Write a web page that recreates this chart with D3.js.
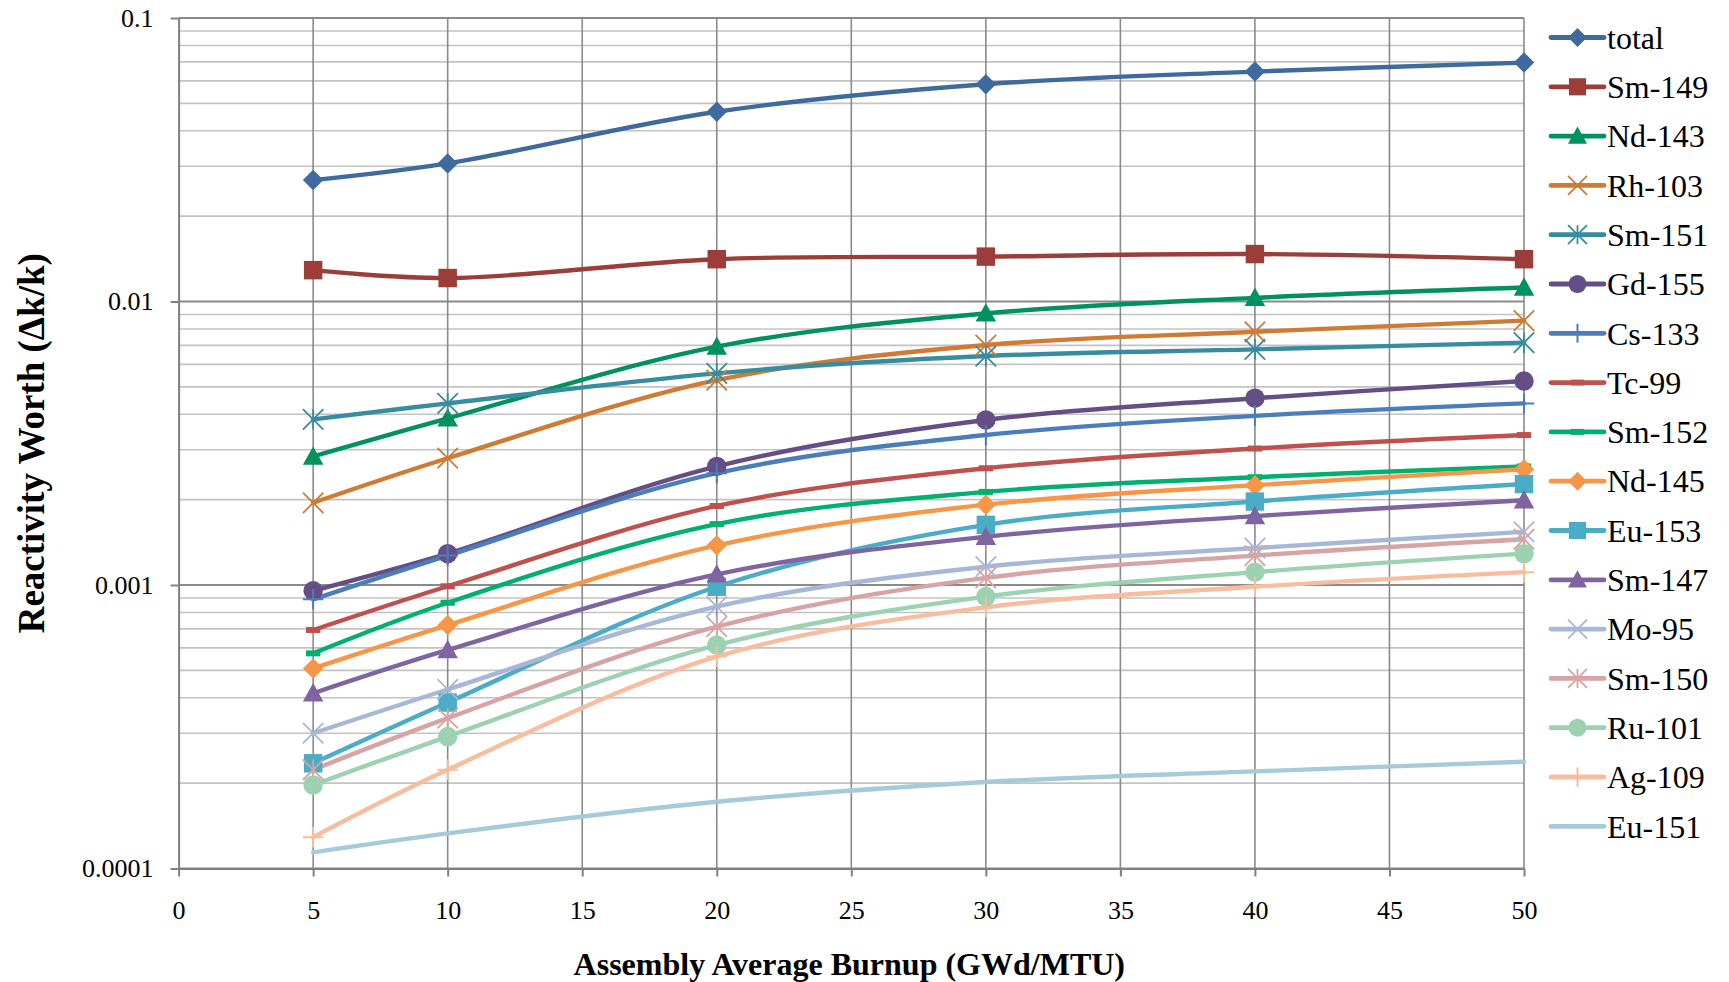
<!DOCTYPE html>
<html>
<head>
<meta charset="utf-8">
<script src="https://cdn.jsdelivr.net/npm/d3@7"></script>
<style>
  body { margin: 0; background: #fff; }
  svg { display: block; }
  text { font-family: "Liberation Serif", "Times New Roman", serif; fill: #000; }
</style>
</head>
<body>
<svg id="chart" width="1729" height="982"></svg>
<script>
// Assembly average burnup (GWd/MTU)
const burnup = [5, 10, 20, 30, 40, 50];

// Reactivity worth (Δk/k) of each nuclide at each burnup step
const total  = [0.0268, 0.0307, 0.0467, 0.0584, 0.0647, 0.0696];
const sm149  = [0.0129, 0.0121, 0.0141, 0.0144, 0.0147, 0.0141];
const nd143  = [0.00284, 0.00387, 0.00693, 0.00908, 0.0103, 0.0112];
const rh103  = [0.00195, 0.00280, 0.00528, 0.00702, 0.00782, 0.00856];
const sm151  = [0.00384, 0.00437, 0.00558, 0.00642, 0.00678, 0.00716];
const gd155  = [0.000954, 0.00129, 0.00262, 0.00382, 0.00456, 0.00524];
const cs133  = [0.000890, 0.00127, 0.00248, 0.00338, 0.00395, 0.00437];
const tc99   = [0.000694, 0.000990, 0.00190, 0.00258, 0.00303, 0.00338];
const sm152  = [0.000574, 0.000866, 0.00164, 0.00213, 0.00240, 0.00262];
const nd145  = [0.000508, 0.000722, 0.00138, 0.00192, 0.00225, 0.00256];
const eu153  = [0.000235, 0.000385, 0.000986, 0.00163, 0.00197, 0.00227];
const sm147  = [0.000415, 0.000590, 0.00109, 0.00148, 0.00175, 0.00199];
const mo95   = [0.000300, 0.000428, 0.000839, 0.00116, 0.00135, 0.00154];
const sm150  = [0.000223, 0.000339, 0.000713, 0.00106, 0.00127, 0.00145];
const ru101  = [0.000197, 0.000292, 0.000614, 0.000910, 0.00111, 0.00129];
const ag109  = [0.000129, 0.000223, 0.000559, 0.000834, 0.000986, 0.00111];
const eu151  = [0.000114, 0.000133, 0.000172, 0.000202, 0.000220, 0.000238];

const seriesNames = ["total", "Sm-149", "Nd-143", "Rh-103", "Sm-151", "Gd-155", "Cs-133", "Tc-99",
  "Sm-152", "Nd-145", "Eu-153", "Sm-147", "Mo-95", "Sm-150", "Ru-101", "Ag-109", "Eu-151"];
const seriesValues = [total, sm149, nd143, rh103, sm151, gd155, cs133, tc99,
  sm152, nd145, eu153, sm147, mo95, sm150, ru101, ag109, eu151];

// Axis tick labels
const xTicks = [0, 5, 10, 15, 20, 25, 30, 35, 40, 45, 50];
const yTicks = [0.0001, 0.001, 0.01, 0.1];
const yTickLabels = ["0.0001", "0.001", "0.01", "0.1"];

// Per-series appearance
const seriesColors = ["#3e6a9e", "#9c3d3a", "#00925e", "#d07b33", "#378c9f", "#654e86", "#4a7ebb", "#c0504d",
  "#00b06e", "#f79646", "#4bacc6", "#8064a2", "#a6b7d7", "#d7a4a3", "#9cd2b1", "#f8bd9f", "#a5cbd8"];
const seriesMarkers = ["diamond", "square", "triangle", "x", "star", "circle", "plus", "dash",
  "dash", "diamond", "square", "triangle", "x", "star", "circle", "plus", "none"];

const svg = d3.select("#chart");
const W = 1729, H = 982;
svg.append("rect").attr("width", W).attr("height", H).attr("fill", "#fff");

const plot = { left: 178.6, right: 1524, top: 18, bottom: 868.5 };
const x = d3.scaleLinear().domain([0, 50]).range([plot.left, plot.right]);
const y = d3.scaleLog().domain([0.0001, 0.1]).range([plot.bottom, plot.top]);

// Minor horizontal gridlines (2..9 within each decade)
const minor = [];
for (let e = -4; e < -1; e++) for (let k = 2; k <= 9; k++) minor.push(k * Math.pow(10, e));
const grid = svg.append("g");
grid.selectAll("line.minor").data(minor).join("line")
  .attr("x1", plot.left).attr("x2", plot.right)
  .attr("y1", d => y(d)).attr("y2", d => y(d))
  .attr("stroke", "#c3c3c3").attr("stroke-width", 1.6);
// Decade gridlines
grid.selectAll("line.major").data(yTicks).join("line")
  .attr("x1", plot.left).attr("x2", plot.right)
  .attr("y1", d => y(d)).attr("y2", d => y(d))
  .attr("stroke", "#8a8a8a").attr("stroke-width", 1.8);
// Vertical gridlines
grid.selectAll("line.vert").data(xTicks.filter(d => d > 0)).join("line")
  .attr("x1", d => x(d)).attr("x2", d => x(d))
  .attr("y1", plot.top).attr("y2", plot.bottom)
  .attr("stroke", "#8a8a8a").attr("stroke-width", 1.6);

// Axes
const xAxis = svg.append("g").attr("transform", `translate(0,${plot.bottom})`)
  .call(d3.axisBottom(x).tickValues(xTicks).tickFormat(d3.format("d")).tickSize(8).tickPadding(24).tickSizeOuter(0));
const yAxis = svg.append("g").attr("transform", `translate(${plot.left},0)`)
  .call(d3.axisLeft(y).tickValues(yTicks).tickFormat((d, i) => yTickLabels[i]).tickSize(8).tickPadding(17).tickSizeOuter(0));
[xAxis, yAxis].forEach(a => {
  a.select(".domain").attr("stroke", "#808080").attr("stroke-width", 2);
  a.selectAll(".tick line").attr("stroke", "#808080").attr("stroke-width", 2);
  a.selectAll(".tick text").attr("font-size", 26).attr("font-family", "Liberation Serif").attr("fill", "#000");
});

// Axis titles
svg.append("text")
  .attr("x", (plot.left + plot.right) / 2 - 2).attr("y", 975)
  .attr("text-anchor", "middle").attr("font-size", 32).attr("font-weight", "bold")
  .text("Assembly Average Burnup (GWd/MTU)");
svg.append("text")
  .attr("transform", `translate(44,${(plot.top + plot.bottom) / 2}) rotate(-90)`)
  .attr("text-anchor", "middle").attr("font-size", 37).attr("font-weight", "bold")
  .text("Reactivity Worth (Δk/k)");

// Marker drawing
function drawMarker(g, type, color, size) {
  const s = size / 2;
  switch (type) {
    case "diamond":
      g.append("path").attr("d", `M0,${-s}L${s},0L0,${s}L${-s},0Z`).attr("fill", color); break;
    case "square":
      g.append("rect").attr("x", -s * 0.9).attr("y", -s * 0.9).attr("width", s * 1.8).attr("height", s * 1.8).attr("fill", color); break;
    case "triangle":
      g.append("path").attr("d", `M0,${-s}L${s},${s * 0.8}L${-s},${s * 0.8}Z`).attr("fill", color); break;
    case "circle":
      g.append("circle").attr("r", s * 0.95).attr("fill", color); break;
    case "x":
      g.append("path").attr("d", `M${-s},${-s}L${s},${s}M${-s},${s}L${s},${-s}`)
        .attr("stroke", color).attr("stroke-width", 1.8).attr("fill", "none"); break;
    case "star":
      g.append("path").attr("d", `M${-s},${-s}L${s},${s}M${-s},${s}L${s},${-s}M0,${-s}L0,${s}`)
        .attr("stroke", color).attr("stroke-width", 1.8).attr("fill", "none"); break;
    case "plus":
      g.append("path").attr("d", `M0,${-s}L0,${s}M${-s},0L${s},0`)
        .attr("stroke", color).attr("stroke-width", 2).attr("fill", "none"); break;
    case "dash":
      g.append("rect").attr("x", -s * 0.7).attr("y", -3).attr("width", s * 1.4).attr("height", 6).attr("fill", color); break;
    default: break;
  }
}

// Series lines (smoothed)
const line = d3.line().x((d, i) => x(burnup[i])).y(d => y(d)).curve(d3.curveCatmullRom.alpha(0.5));
const seriesG = svg.append("g");
seriesValues.forEach((vals, si) => {
  const g = seriesG.append("g");
  g.append("path").datum(vals).attr("d", line).attr("fill", "none")
    .attr("stroke", seriesColors[si]).attr("stroke-width", 4.4)
    .attr("stroke-linejoin", "round").attr("stroke-linecap", "round");
});
// Markers on top of all lines
seriesValues.forEach((vals, si) => {
  vals.forEach((v, i) => {
    const mg = seriesG.append("g").attr("transform", `translate(${x(burnup[i])},${y(v)})`);
    drawMarker(mg, seriesMarkers[si], seriesColors[si], 20.5);
  });
});

// Legend
const legend = svg.append("g");
seriesNames.forEach((name, si) => {
  const ly = 37.5 + si * 49.3;
  const row = legend.append("g").attr("transform", `translate(0,${ly})`);
  row.append("line").attr("x1", 1551).attr("x2", 1604).attr("y1", 0).attr("y2", 0)
    .attr("stroke", seriesColors[si]).attr("stroke-width", 4.8).attr("stroke-linecap", "round");
  const mg = row.append("g").attr("transform", `translate(1577.5,0)`);
  drawMarker(mg, seriesMarkers[si], seriesColors[si], 19);
  row.append("text").attr("x", 1607).attr("y", 0).attr("dy", "0.35em")
    .attr("font-size", 32).text(name);
});
</script>
</body>
</html>
